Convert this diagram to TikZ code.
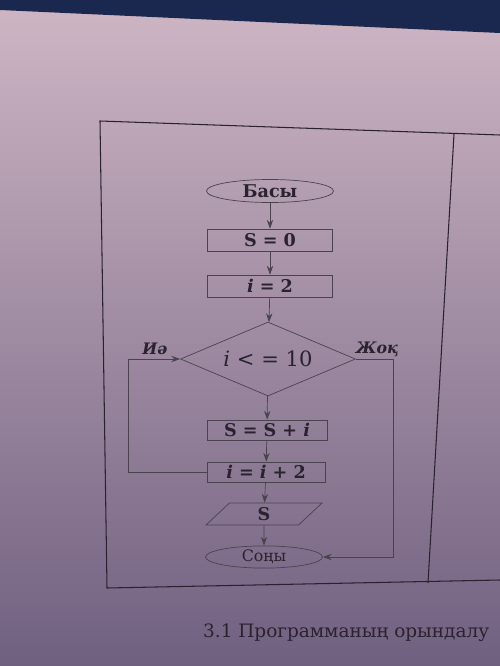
\documentclass[tikz,border=0pt]{standalone}
\usepackage{fontspec}
\setmainfont{DejaVu Serif}
\usetikzlibrary{arrows.meta,shapes.geometric}
\definecolor{papertop}{RGB}{206,182,196}
\definecolor{papermid}{RGB}{202,178,192}
\definecolor{paperlow}{RGB}{112,96,128}
\definecolor{ink}{RGB}{42,34,46}
\definecolor{navy}{RGB}{26,40,80}

\begin{document}
\begin{tikzpicture}[x=0.2mm, y=-0.2mm, >={Stealth[length=5pt,width=3.6pt]},
  blk/.style={draw=ink!85, thin, minimum width=25mm, minimum height=4.4mm, inner sep=0.5pt,
              font=\bfseries, text=ink},
  term/.style={blk, ellipse},
  cond/.style={draw=ink!85, thin, diamond, aspect=2.36, minimum width=35mm, minimum height=14.8mm,
               inner sep=0pt, text=ink},
  io/.style={blk, trapezium, trapezium left angle=72, trapezium right angle=108,
             trapezium stretches=true},
  lbl/.style={font=\bfseries\itshape\small, text=ink},
  flow/.style={->, ink!85, thin}]
  \useasboundingbox (0,0) rectangle (500,666);
  % photo background
  \shade[top color=papertop, middle color=papermid, bottom color=paperlow] (0,0) rectangle (500,666);
  \fill[navy] (0,0) -- (500,0) -- (500,33) -- (0,10) -- cycle;
  % table frame
  \draw[ink, line width=0.6pt] (500,135) -- (100,121) -- (107,588) -- (500,580);
  \draw[ink, line width=0.6pt] (454,134) -- (428,583);

  \node[term, minimum width=25.4mm, minimum height=4.6mm] (start) at (270,191) {Басы};
  \node[blk] (szero) at (270,240) {S = 0};
  \node[blk] (iinit) at (270,286) {\textit{i} = 2};
  \node[cond, font=\large] (check) at (268,359) {\textit{i} < = 10};
  \node[blk, minimum width=24mm, minimum height=4mm] (sum) at (267,430) {S = S + \textit{i}};
  \node[blk, minimum width=23.6mm, minimum height=4mm] (next) at (266,472) {\textit{i} = \textit{i} + 2};
  \node[io, minimum width=23.2mm] (out) at (264,514) {S};
  \node[term, minimum width=23.4mm, minimum height=4.2mm, font=\small] (stop) at (264,557) {Соңы};
  \node[lbl] (yes) at (155,349) {Иә};
  \node[lbl] (no) at (377,349) {Жоқ};
  \coordinate (back) at (128,359);
  \coordinate (exit) at (393,359);

  \draw[flow] (start) -- (szero);
  \draw[flow] (szero) -- (iinit);
  \draw[flow] (iinit) -- (check);
  \draw[flow] (check) -- (sum);
  \draw[flow] (sum) -- (next);
  \draw[flow] (next) -- (out);
  \draw[flow] (out) -- (stop);
  \draw[flow] (next.west) -| (back) -- (check.west);
  \draw[flow] (check.east) -- (exit) |- (stop.east);

  \node[anchor=base west, font=\fontsize{10.5}{13}\selectfont, text=ink] (caption) at (197,637)
    {3.1 Программаның орындалу};
\end{tikzpicture}
\end{document}
